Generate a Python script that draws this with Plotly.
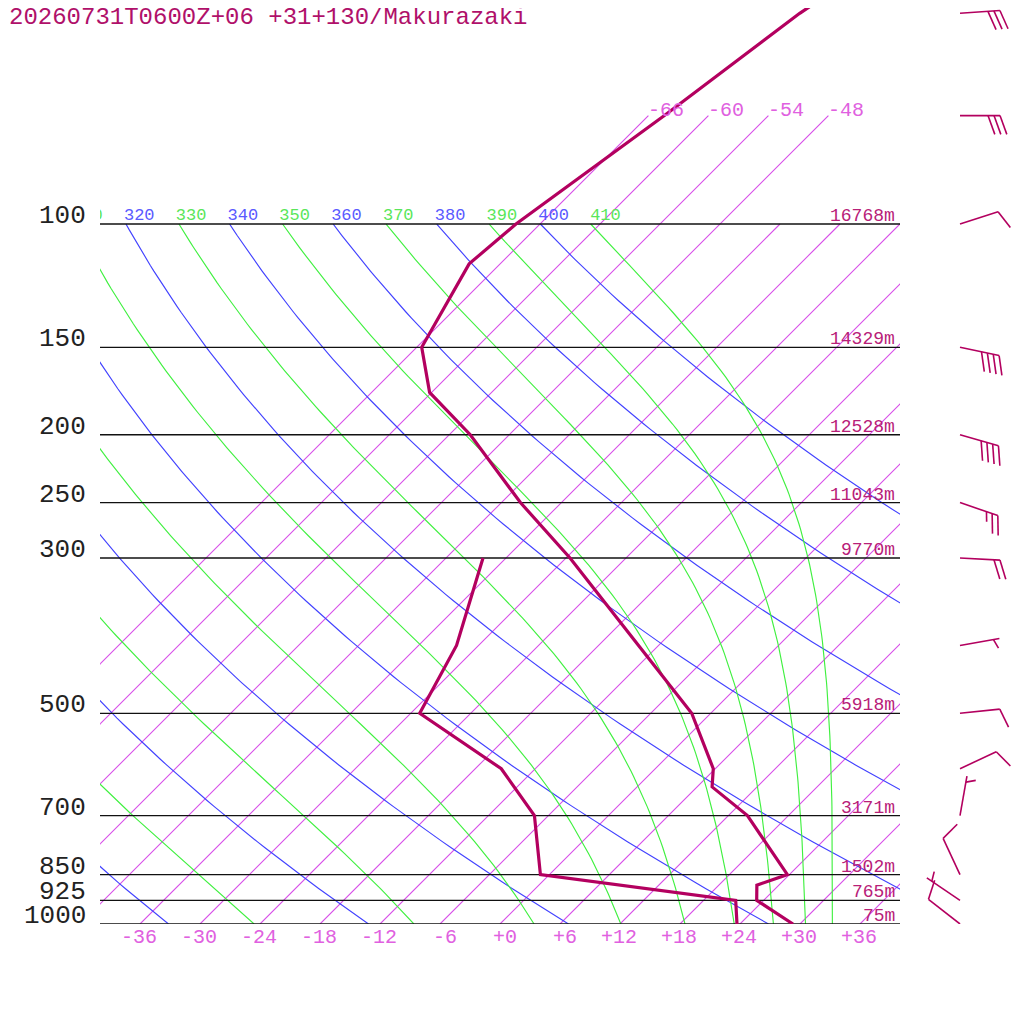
import numpy as np
import plotly.graph_objects as go

# ---- data ----
title_text = "20260731T0600Z+06 +31+130/Makurazaki"

# temperature profile (hPa, degC)
temp_p = [1000, 925, 880, 850, 700, 637, 600, 500, 400, 300, 250, 200, 174, 150, 114, 100, 70, 50, 40]
temp_c = [29.3, 23.3, 21.8, 23.8, 13.9, 7.5, 5.8, -1.9, -14.0, -29.6, -40.1, -51.9, -60.2, -65.5, -69.1, -68.4, -64.4, -61.1, -57.7]

# dewpoint profile (hPa, degC)
dewp_p = [1000, 925, 850, 700, 600, 500, 400, 300]
dewp_c = [23.7, 21.2, -0.9, -7.4, -15.4, -29.1, -32.2, -38.3]

# winds (hPa, direction deg, speed kt)
wind_p = [1000, 925, 850, 700, 600, 500, 400, 300, 250, 200, 150, 100, 70, 50]
wind_dir = [308, 304, 335, 10, 65, 84, 80, 93, 109, 106, 102, 72, 90, 86]
wind_kt = [10, 5, 10, 5, 10, 10, 5, 20, 25, 40, 40, 10, 30, 30]

# standard levels and their heights
std_p = [100, 150, 200, 250, 300, 500, 700, 850, 925, 1000]
std_hgt = ["16768m", "14329m", "12528m", "11043m", "9770m", "5918m", "3171m", "1502m", "765m", "75m"]

temp_ticks = [-36, -30, -24, -18, -12, -6, 0, 6, 12, 18, 24, 30, 36]
isotherms = list(range(-66, 37, 6))
dry_thetas = list(range(240, 401, 20))
moist_thetas = list(range(250, 411, 20))

# ---- diagram geometry ----
# the page puts the figure 8px in from the corner, so the plot is 916px tall
PX_PER_LN = 304.0
PTOP = 1000 * np.exp(-916 / PX_PER_LN)
SKEW = 30.4                           # degC shift per ln(1000/p) -> 45 deg isotherms

LINE = "#b3005f"
ISO = "rgb(215,78,232)"
ISO_TXT = "#e060e0"
BLUE = "rgb(66,66,255)"
GREEN = "rgb(64,240,64)"
MONO = "Liberation Mono, Courier New, monospace"


def skew_x(t, p):
    return np.asarray(t, dtype=float) + SKEW * np.log(1000.0 / np.asarray(p, dtype=float))


def theta_e(tk, p):
    tc = tk - 273.15
    es = 6.112 * np.exp(17.67 * tc / (tc + 243.5))
    r = 622.0 * es / (p - es)
    th = tk * (1000.0 / p) ** (0.2854 * (1 - 0.00028 * r))
    return th * np.exp((3.376 / tk - 0.00254) * r * (1 + 0.00081 * r))


pgrid = np.exp(np.linspace(np.log(1000), np.log(100), 120))

fig = go.Figure()

# isotherms
for t in isotherms:
    ptop = 70 if t <= -48 else 100
    xs = skew_x([t, t], [1000, ptop]).tolist()
    fig.add_trace(go.Scatter(x=xs, y=[1000, ptop], mode="lines",
                             line=dict(color=ISO, width=1.1), hoverinfo="skip"))

# dry adiabats
for th in dry_thetas:
    tc = th * (pgrid / 1000.0) ** 0.2857 - 273.15
    fig.add_trace(go.Scatter(x=skew_x(tc, pgrid), y=pgrid, mode="lines",
                             line=dict(color=BLUE, width=1.15), hoverinfo="skip"))

# moist (pseudo) adiabats
hi_c = 243.5 * np.log(0.3 * pgrid / 6.112) / (17.67 - np.log(0.3 * pgrid / 6.112))
for the in moist_thetas:
    lo = np.full_like(pgrid, 150.0)
    hi = hi_c + 273.15
    for _ in range(60):
        mid = 0.5 * (lo + hi)
        big = theta_e(mid, pgrid) > the
        hi = np.where(big, mid, hi)
        lo = np.where(big, lo, mid)
    tc = 0.5 * (lo + hi) - 273.15
    fig.add_trace(go.Scatter(x=skew_x(tc, pgrid), y=pgrid, mode="lines",
                             line=dict(color=GREEN, width=1.15), hoverinfo="skip"))

# adiabat labels at 100 hPa (clipped to the plot like the original)
lab_t, lab_x, lab_c = [], [], []
for th in sorted(dry_thetas + moist_thetas):
    tc = th * 0.1 ** 0.2857 - 273.15
    lab_t.append(str(th))
    lab_x.append(float(skew_x(tc, 100)) - 0.2)
    lab_c.append("#5a5aff" if th in dry_thetas else "#5ae65a")
fig.add_trace(go.Scatter(x=lab_x, y=[100] * len(lab_x), mode="text", text=lab_t,
                         textposition="top right", cliponaxis=True,
                         textfont=dict(family=MONO, size=17, color=lab_c), hoverinfo="skip"))

# pressure lines
px, py = [], []
for p in std_p:
    px += [-40, 40, None]
    py += [p, p, None]
fig.add_trace(go.Scatter(x=px, y=py, mode="lines", line=dict(color="#111111", width=1.3), hoverinfo="skip"))

# sounding
fig.add_trace(go.Scatter(x=skew_x(dewp_c, dewp_p), y=dewp_p, mode="lines",
                         line=dict(color=LINE, width=3.2), name="Td"))
fig.add_trace(go.Scatter(x=skew_x(temp_c, temp_p), y=temp_p, mode="lines",
                         line=dict(color=LINE, width=3.2), name="T"))

# wind barbs, drawn in pixel units on a side axis
bx, by = [], []
STAFF, FULL, HALF, GAP = 40.0, 20.0, 10.0, 6.0
c70, s70 = np.cos(np.radians(70)), np.sin(np.radians(70))
for p, d, s in zip(wind_p, wind_dir, wind_kt):
    ux, uy = np.sin(np.radians(d)), -np.cos(np.radians(d))
    vx, vy = ux * c70 - uy * s70, ux * s70 + uy * c70
    segs = [((0, 0), (STAFF * ux, STAFF * uy))]
    nfull, half = s // 10, (s % 10) >= 5
    pos = STAFF
    for i in range(nfull):
        segs.append(((pos * ux, pos * uy), (pos * ux + FULL * vx, pos * uy + FULL * vy)))
        pos -= GAP
    if half:
        if nfull == 0:
            pos -= GAP
        segs.append(((pos * ux, pos * uy), (pos * ux + HALF * vx, pos * uy + HALF * vy)))
    for (x0, y0), (x1, y1) in segs:
        bx += [x0, x1, None]
        by += [p * np.exp(y0 / PX_PER_LN), p * np.exp(y1 / PX_PER_LN), None]
fig.add_trace(go.Scatter(x=bx, y=by, xaxis="x2", yaxis="y", mode="lines",
                         line=dict(color=LINE, width=1.6), hoverinfo="skip"))

ann = []
for p, h in zip(std_p, std_hgt):
    ann.append(dict(x=40, y=np.log10(p), xref="x", yref="y", text=h, showarrow=False,
                    xanchor="right", yanchor="bottom", xshift=-3, yshift=-4,
                    font=dict(family=MONO, size=18, color="#b82078")))
    ann.append(dict(x=-40, y=np.log10(p), xref="x", yref="y", text=str(p), showarrow=False,
                    xanchor="right", yanchor="bottom", xshift=-12, yshift=-9,
                    font=dict(family=MONO, size=26, color="#222222")))
# isotherm labels at the top ends
for t in isotherms:
    if t <= -48:
        ann.append(dict(x=float(skew_x(t, 70)), y=np.log10(70), xref="x", yref="y", text="%d" % t,
                        showarrow=False, xanchor="left", yanchor="middle", xshift=-2, yshift=5,
                        font=dict(family=MONO, size=20, color=ISO_TXT)))
for t in temp_ticks:
    ann.append(dict(x=t, y=3, xref="x", yref="y", text="%+d" % t, showarrow=False,
                    xanchor="right", yanchor="top", xshift=19, yshift=0,
                    font=dict(family=MONO, size=20, color=ISO_TXT)))
ann.append(dict(x=0, y=1, xref="paper", yref="paper", text=title_text, showarrow=False,
                xanchor="left", yanchor="middle", xshift=-93, yshift=-9,
                font=dict(family=MONO, size=24, color="#b0106a")))

fig.update_layout(
    width=1024, height=1024,
    margin=dict(l=92, r=0, t=0, b=108),
    paper_bgcolor="white", plot_bgcolor="white",
    showlegend=False,
    xaxis=dict(domain=[0, 800 / 932], range=[-40, 40], visible=False),
    xaxis2=dict(domain=[810 / 932, 1], range=[-50, 72], visible=False, anchor="y"),
    yaxis=dict(type="log", range=[3, np.log10(PTOP)], visible=False),
    annotations=ann,
)

fig.write_html("out.html")
